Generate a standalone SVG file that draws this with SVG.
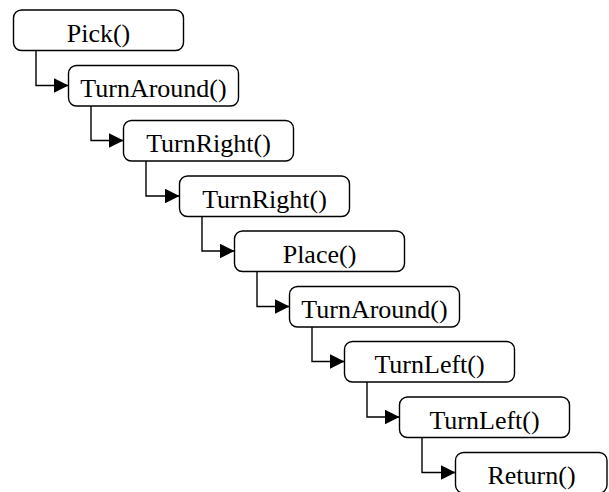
<svg xmlns="http://www.w3.org/2000/svg" width="609" height="492" viewBox="0 0 609 492">
  <defs>
    <style>
      .box { fill: #ffffff; stroke: #000000; stroke-width: 1.4; }
      .lbl { font-family: "Liberation Serif", "Times New Roman", serif; font-size: 26px; fill: #000000; text-anchor: middle; }
      .edge { fill: none; stroke: #000000; stroke-width: 1.4; }
    </style>
    <marker id="arrow" markerUnits="userSpaceOnUse" markerWidth="17" markerHeight="16" refX="15" refY="7.5" orient="auto">
      <path d="M0,0 L15,7.5 L0,15 Z" fill="#000000"/>
    </marker>
  </defs>
  <rect width="609" height="492" fill="#ffffff"/>

  <!-- connectors: each call steps down into the next -->
  <g id="connectors">
    <path class="edge" marker-end="url(#arrow)" d="M36,50.5 V85.5 H68.5"/>
    <path class="edge" marker-end="url(#arrow)" d="M91,106 V140.5 H123.5"/>
    <path class="edge" marker-end="url(#arrow)" d="M146,161 V196 H179.5"/>
    <path class="edge" marker-end="url(#arrow)" d="M202,216.5 V251 H234.5"/>
    <path class="edge" marker-end="url(#arrow)" d="M257,271.5 V306.5 H289.5"/>
    <path class="edge" marker-end="url(#arrow)" d="M312,327 V361.5 H344.5"/>
    <path class="edge" marker-end="url(#arrow)" d="M367,382 V417 H399.5"/>
    <path class="edge" marker-end="url(#arrow)" d="M422,437.5 V472.5 H455.5"/>
  </g>

  <g id="n0">
    <rect class="box" x="13.5" y="10" width="170" height="40.5" rx="8"/>
    <text class="lbl" x="98.5" y="42">Pick()</text>
  </g>
  <g id="n1">
    <rect class="box" x="68.5" y="65.5" width="170" height="40.5" rx="8"/>
    <text class="lbl" x="153.5" y="97">TurnAround()</text>
  </g>
  <g id="n2">
    <rect class="box" x="123.5" y="120.5" width="170" height="40.5" rx="8"/>
    <text class="lbl" x="208.5" y="152">TurnRight()</text>
  </g>
  <g id="n3">
    <rect class="box" x="179.5" y="176" width="170" height="40.5" rx="8"/>
    <text class="lbl" x="264.5" y="207.5">TurnRight()</text>
  </g>
  <g id="n4">
    <rect class="box" x="234.5" y="231" width="170" height="40.5" rx="8"/>
    <text class="lbl" x="319.5" y="262.5">Place()</text>
  </g>
  <g id="n5">
    <rect class="box" x="289.5" y="286.5" width="170" height="40.5" rx="8"/>
    <text class="lbl" x="374.5" y="318">TurnAround()</text>
  </g>
  <g id="n6">
    <rect class="box" x="344.5" y="341.5" width="170" height="40.5" rx="8"/>
    <text class="lbl" x="429.5" y="373">TurnLeft()</text>
  </g>
  <g id="n7">
    <rect class="box" x="399.5" y="397" width="170" height="40.5" rx="8"/>
    <text class="lbl" x="484.5" y="428.5">TurnLeft()</text>
  </g>
  <g id="n8">
    <rect class="box" x="455.5" y="452.5" width="151.5" height="40.5" rx="8"/>
    <text class="lbl" x="531.5" y="484">Return()</text>
  </g>
</svg>
